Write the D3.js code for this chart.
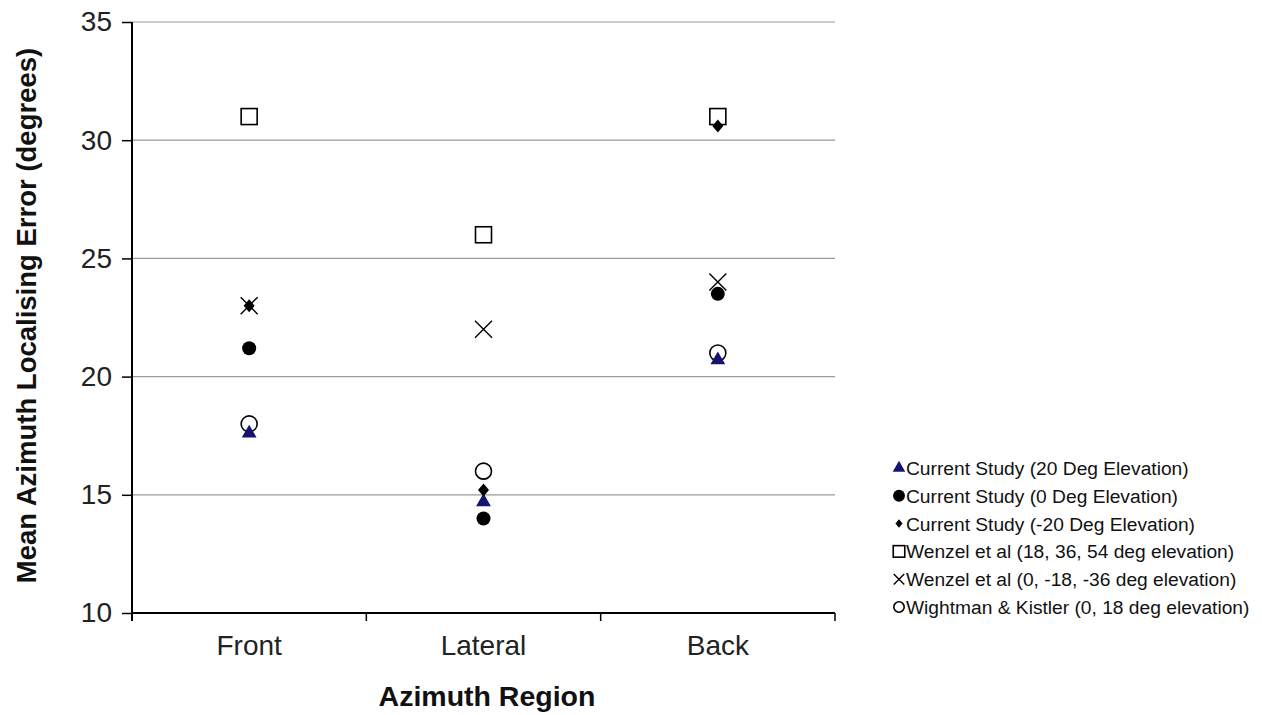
<!DOCTYPE html>
<html><head><meta charset="utf-8">
<script src="https://cdn.jsdelivr.net/npm/d3@7"></script>
<style>body{margin:0;background:#fff;}svg{display:block;font-family:Arial,"Liberation Sans",sans-serif;}</style>
</head><body><svg id="c" width="1262" height="715"></svg>
<script>
const categories = ["Front", "Lateral", "Back"];
const seriesNames = [
  "Current Study (20 Deg Elevation)",
  "Current Study (0 Deg Elevation)",
  "Current Study (-20 Deg Elevation)",
  "Wenzel et al (18, 36, 54 deg elevation)",
  "Wenzel et al (0, -18, -36 deg elevation)",
  "Wightman & Kistler (0, 18 deg elevation)"
];
const current20 = [17.6, 14.7, 20.7];
const current0 = [21.2, 14.0, 23.5];
const currentNeg20 = [23.0, 15.2, 30.6];
const wenzelHigh = [31, 26, 31];
const wenzelLow = [23, 22, 24];
const wightman = [18, 16, 21];
const yTicks = [10, 15, 20, 25, 30, 35];

const svg = d3.select("#c");
const FF = "Arial, Liberation Sans, sans-serif";
const m = {left:132, right:835, top:22, bottom:613};
const x = d3.scaleBand().domain(categories).range([m.left, m.right]);
const y = d3.scaleLinear().domain([10, 35]).range([m.bottom, m.top]);

// gridlines
svg.append("g").selectAll("line").data(yTicks.slice(1)).join("line")
  .attr("x1", m.left).attr("x2", m.right)
  .attr("y1", d => y(d)).attr("y2", d => y(d))
  .attr("stroke", "#9a9a9a").attr("stroke-width", 1.2);

// y axis
const ya = svg.append("g").attr("transform", `translate(${m.left},0)`)
  .call(d3.axisLeft(y).tickValues(yTicks).tickSize(10).tickPadding(10));
ya.select(".domain").attr("stroke", "#000").attr("stroke-width", 2).attr("d", `M0,${m.top}V${m.bottom + 8}`);
ya.selectAll(".tick line").attr("stroke", "#000").attr("stroke-width", 1.5);
ya.selectAll(".tick text").attr("font-size", 28).attr("fill", "#222").attr("font-family", FF);

// x axis
const xa = svg.append("g").attr("transform", `translate(0,${m.bottom})`)
  .call(d3.axisBottom(x).tickSize(0).tickPadding(42));
xa.select(".domain").attr("stroke", "#000").attr("stroke-width", 2).attr("d", `M${m.left},0H${m.right}`);
xa.selectAll(".tick text").attr("font-size", 28).attr("fill", "#222").attr("font-family", FF).attr("dy", null);
// boundary ticks
const bounds = categories.map(c => x(c) + x.bandwidth());
svg.append("g").selectAll("line").data(bounds).join("line")
  .attr("x1", d => d).attr("x2", d => d)
  .attr("y1", m.bottom).attr("y2", m.bottom + 8)
  .attr("stroke", "#000").attr("stroke-width", 1.5);

// titles
svg.append("text").attr("transform", `translate(36,${(m.top+m.bottom)/2 - 2}) rotate(-90)`)
  .attr("text-anchor", "middle").attr("font-size", 27.5).attr("font-weight", "bold").attr("fill", "#111")
  .text("Mean Azimuth Localising Error (degrees)");
svg.append("text").attr("x", 487).attr("y", 706)
  .attr("text-anchor", "middle").attr("font-size", 28.5).attr("font-weight", "bold").attr("fill", "#111")
  .text("Azimuth Region");

// markers
function drawMarker(g, type, scale) {
  const s = scale;
  if (type === "tri") {
    g.append("path").attr("d", d3.symbol(d3.symbolTriangle, 95*s*s)()).attr("fill", "#14146e");
  } else if (type === "dot") {
    g.append("circle").attr("r", 7*s).attr("fill", "#000");
  } else if (type === "diamond") {
    g.append("path").attr("d", `M0,${-6.5*s}L${5.5*s},0L0,${6.5*s}L${-5.5*s},0Z`).attr("fill", "#000");
  } else if (type === "square") {
    g.append("rect").attr("x", -8*s).attr("y", -8*s).attr("width", 16*s).attr("height", 16*s)
      .attr("fill", "none").attr("stroke", "#000").attr("stroke-width", 1.6);
  } else if (type === "x") {
    g.append("path").attr("d", `M${-8.5*s},${-8.5*s}L${8.5*s},${8.5*s}M${8.5*s},${-8.5*s}L${-8.5*s},${8.5*s}`)
      .attr("stroke", "#000").attr("stroke-width", 1.4).attr("fill", "none");
  } else if (type === "ocircle") {
    g.append("circle").attr("r", 8*s).attr("fill", "none").attr("stroke", "#000").attr("stroke-width", 1.6);
  }
}

const series = [
  {name: seriesNames[0], values: current20, type: "tri"},
  {name: seriesNames[1], values: current0, type: "dot"},
  {name: seriesNames[2], values: currentNeg20, type: "diamond"},
  {name: seriesNames[3], values: wenzelHigh, type: "square"},
  {name: seriesNames[4], values: wenzelLow, type: "x"},
  {name: seriesNames[5], values: wightman, type: "ocircle"}
];
const drawOrder = [3, 5, 4, 1, 0, 2];
drawOrder.forEach(i => {
  const s = series[i];
  s.values.forEach((v, j) => {
    const g = svg.append("g").attr("transform", `translate(${x(categories[j]) + x.bandwidth()/2},${y(v)})`);
    drawMarker(g, s.type, 1);
  });
});

// legend
const lg = svg.append("g");
const legScale = {tri: 0.85, dot: 0.85, diamond: 0.65, square: 0.72, x: 0.62, ocircle: 0.65};
series.forEach((s, i) => {
  const yy = 468 + i * 27.8;
  const g = lg.append("g").attr("transform", `translate(899,${yy})`);
  drawMarker(g, s.type, legScale[s.type]);
  lg.append("text").attr("x", 906).attr("y", yy).attr("dy", "0.36em")
    .attr("font-size", 19.2).attr("fill", "#111").attr("font-family", FF).text(s.name);
});
</script></body></html>
